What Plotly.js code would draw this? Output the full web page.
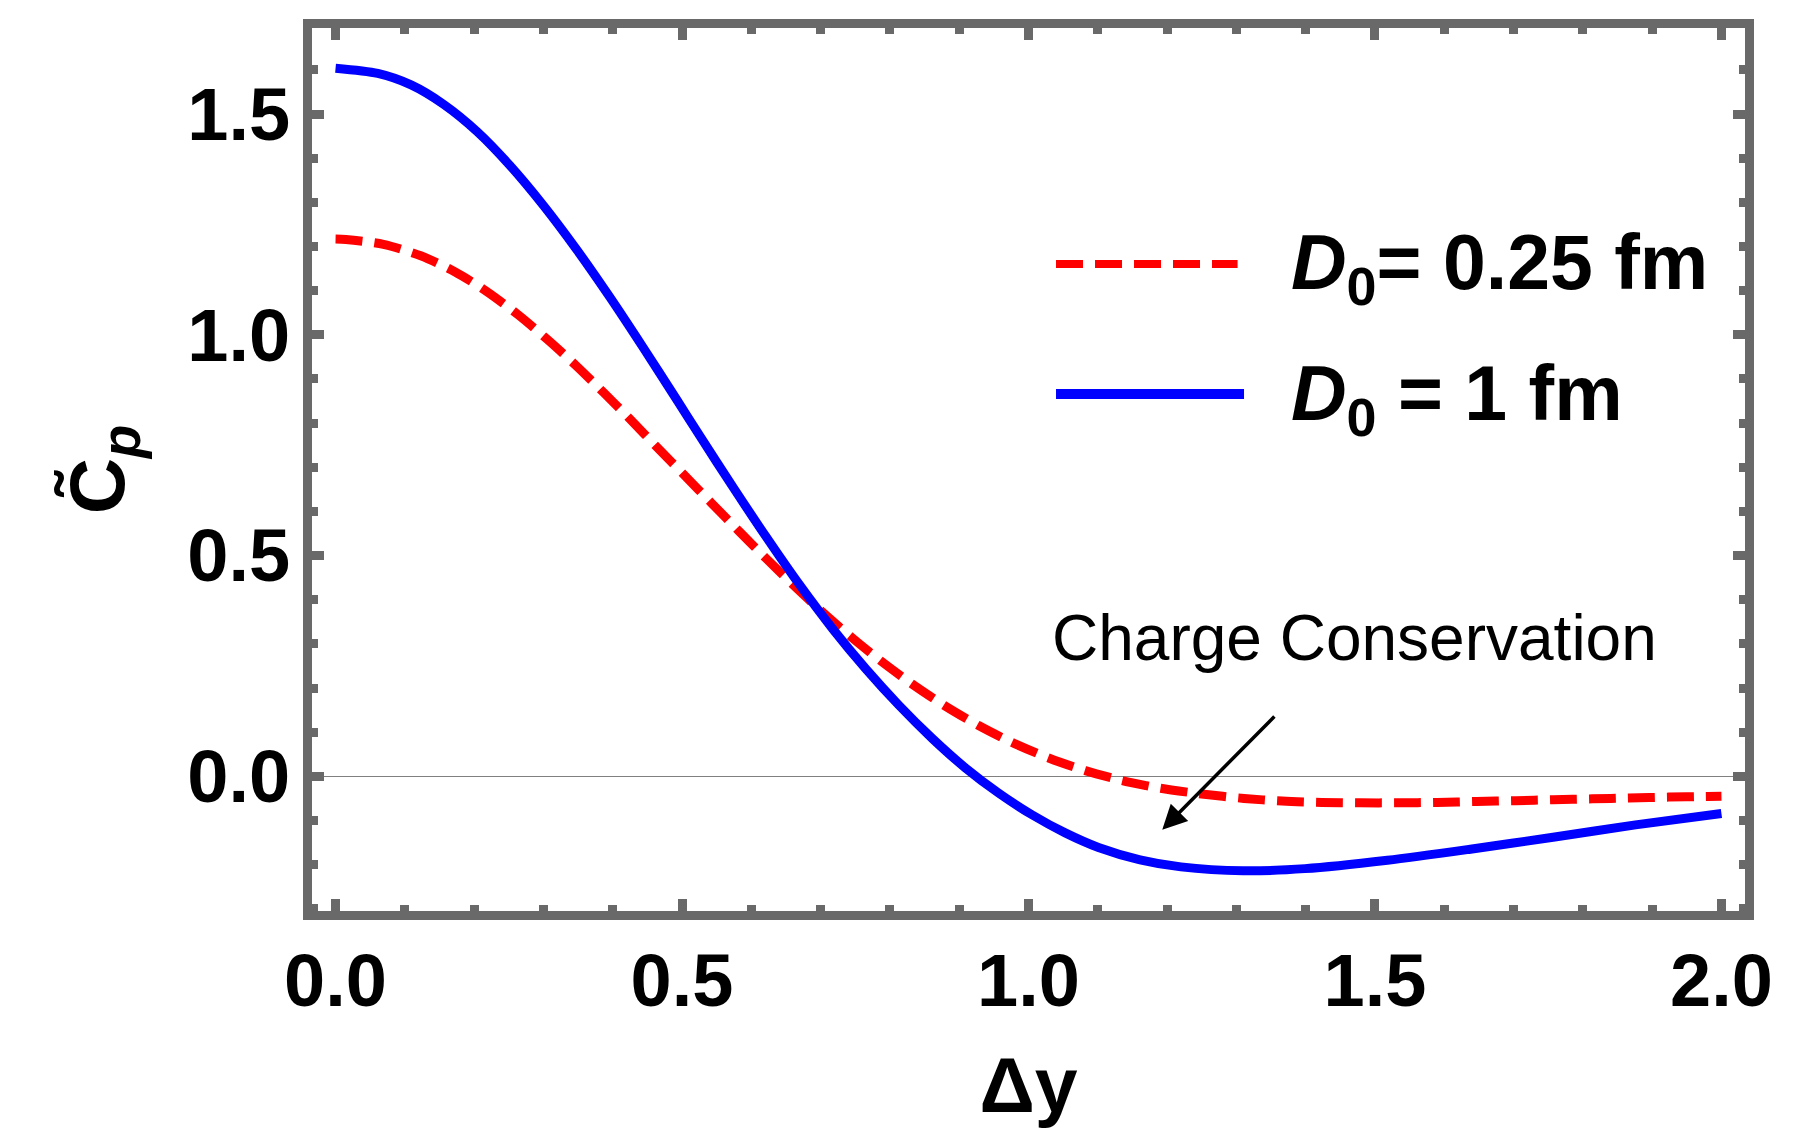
<!DOCTYPE html>
<html>
<head>
<meta charset="utf-8">
<script src="https://cdn.plot.ly/plotly-3.0.1.min.js"></script>
<style>
  html, body { margin: 0; padding: 0; background: #ffffff; }
  #chart { width: 1815px; height: 1128px; }
</style>
</head>
<body>
<div id="chart"></div>
<script>
// ---- data ----
const seriesNames = ["D0 = 0.25 fm", "D0 = 1 fm"];

const dyRed = [0.0, 0.015, 0.069, 0.123, 0.172, 0.2165, 0.263, 0.306, 0.348, 0.387, 0.425, 0.468, 0.504,
  0.5425, 0.583, 0.6216, 0.6648, 0.7055, 0.746, 0.788, 0.833, 0.880, 0.928, 0.976, 1.030, 1.082, 1.134, 1.170,
  1.190, 1.250, 1.311, 1.366, 1.423, 1.478, 1.533, 1.590, 1.6466, 1.703, 1.757, 1.8135, 1.867, 1.924, 1.980, 2.0];
const cpRed = [1.217, 1.216, 1.205, 1.179, 1.143, 1.100, 1.046, 0.989, 0.929, 0.869, 0.809, 0.739, 0.681,
  0.619, 0.554, 0.493, 0.427, 0.368, 0.313, 0.260, 0.208, 0.159, 0.115, 0.077, 0.041, 0.013, -0.009, -0.021,
  -0.027, -0.040, -0.050, -0.056, -0.059, -0.060, -0.060, -0.059, -0.057, -0.055, -0.053, -0.051, -0.049, -0.047, -0.0455, -0.045];

const dyBlue = [0.0, 0.061, 0.109, 0.156, 0.2045, 0.252, 0.300, 0.348, 0.396, 0.444, 0.492, 0.5257, 0.5736,
  0.6216, 0.6695, 0.7174, 0.7654, 0.813, 0.861, 0.909, 0.957, 1.005, 1.053, 1.101, 1.161, 1.220, 1.3095,
  1.399, 1.518, 1.6376, 1.757, 1.876, 2.0];
const cpBlue = [1.604, 1.592, 1.566, 1.522, 1.460, 1.383, 1.293, 1.193, 1.085, 0.971, 0.854, 0.771, 0.655,
  0.542, 0.434, 0.334, 0.243, 0.161, 0.086, 0.019, -0.038, -0.087, -0.128, -0.161, -0.189, -0.205, -0.214,
  -0.209, -0.190, -0.165, -0.138, -0.110, -0.084];

const xTickVals = [0, 0.5, 1.0, 1.5, 2.0];
const xTickText = ["0.0", "0.5", "1.0", "1.5", "2.0"];
const yTickVals = [0, 0.5, 1.0, 1.5];
const yTickText = ["0.0", "0.5", "1.0", "1.5"];

const legendLabels = ["<i>D</i><sub>0</sub>= 0.25 fm", "<i>D</i><sub>0</sub> = 1 fm"];
const noteText = "Charge Conservation";
// arrow: tail and tip in data units
const arrowTail = [1.357, 0.139];
const arrowTip = [1.193, -0.121];

// ---- styling ----
const FRAME = "#696969";
const FONT = "Liberation Sans, Arial, Helvetica, sans-serif";

const traces = [
  {
    x: dyRed, y: cpRed, type: "scatter", mode: "lines", name: seriesNames[0],
    line: { color: "#ff0000", width: 9, dash: "27px,12px", shape: "spline", smoothing: 0.8 },
    showlegend: false, hoverinfo: "skip"
  },
  {
    x: dyBlue, y: cpBlue, type: "scatter", mode: "lines", name: seriesNames[1],
    line: { color: "#0000ff", width: 9, shape: "spline", smoothing: 0.8 },
    showlegend: false, hoverinfo: "skip"
  }
];

const axisCommon = {
  showline: true, linewidth: 9, linecolor: FRAME, mirror: "allticks",
  ticks: "inside", ticklen: 12, tickwidth: 9, tickcolor: FRAME,
  showgrid: false, automargin: false,
  tickfont: { family: FONT, size: 74, color: "#000000", weight: "bold" },
  minor: { ticks: "inside", dtick: 0.1, tick0: 0, ticklen: 6, tickwidth: 9, tickcolor: FRAME, showgrid: false }
};

const layout = {
  width: 1815, height: 1128,
  paper_bgcolor: "#ffffff", plot_bgcolor: "#ffffff",
  margin: { l: 312, r: 70, t: 28, b: 217, pad: 0 },
  showlegend: false,
  xaxis: Object.assign({}, axisCommon, {
    range: [-0.034, 2.034], tickmode: "array", tickvals: xTickVals, ticktext: xTickText,
    zeroline: false, ticklabelstandoff: -3,
    title: { text: "<b>Δy</b>", font: { family: FONT, size: 77, color: "#000000" }, standoff: 48 }
  }),
  yaxis: Object.assign({}, axisCommon, {
    range: [-0.305, 1.695], tickmode: "array", tickvals: yTickVals, ticktext: yTickText,
    zeroline: true, zerolinecolor: "#808080", zerolinewidth: 1, ticklabelstandoff: -2,
    title: { text: "<b>C\u0303<sub><i>p</i></sub></b>", font: { family: FONT, size: 78, color: "#000000" }, standoff: 41 }
  }),
  shapes: [
    { type: "line", xref: "paper", yref: "paper", x0: 0.5192, x1: 0.6459, y0: 0.7327, y1: 0.7327,
      line: { color: "#ff0000", width: 8, dash: "27px,12px" } },
    { type: "line", xref: "paper", yref: "paper", x0: 0.5192, x1: 0.6504, y0: 0.5855, y1: 0.5855,
      line: { color: "#0000ff", width: 10 } }
  ],
  annotations: [
    { xref: "paper", yref: "paper", x: 0.6816, y: 0.7287, xanchor: "left", yanchor: "middle",
      text: "<b>" + legendLabels[0] + "</b>", showarrow: false,
      font: { family: FONT, size: 77, color: "#000000" } },
    { xref: "paper", yref: "paper", x: 0.6816, y: 0.5809, xanchor: "left", yanchor: "middle",
      text: "<b>" + legendLabels[1] + "</b>", showarrow: false,
      font: { family: FONT, size: 77, color: "#000000" } },
    { xref: "x", yref: "y", x: 1.031, y: 0.313, xanchor: "left", yanchor: "middle",
      text: noteText, showarrow: false,
      font: { family: FONT, size: 64, color: "#000000" } },
    { xref: "x", yref: "y", axref: "x", ayref: "y",
      x: arrowTip[0], y: arrowTip[1], ax: arrowTail[0], ay: arrowTail[1],
      text: "", showarrow: true, arrowhead: 2, arrowsize: 1.4, arrowwidth: 3.5, arrowcolor: "#000000" }
  ]
};

Plotly.newPlot("chart", traces, layout, { staticPlot: true, displayModeBar: false });
</script>
</body>
</html>
